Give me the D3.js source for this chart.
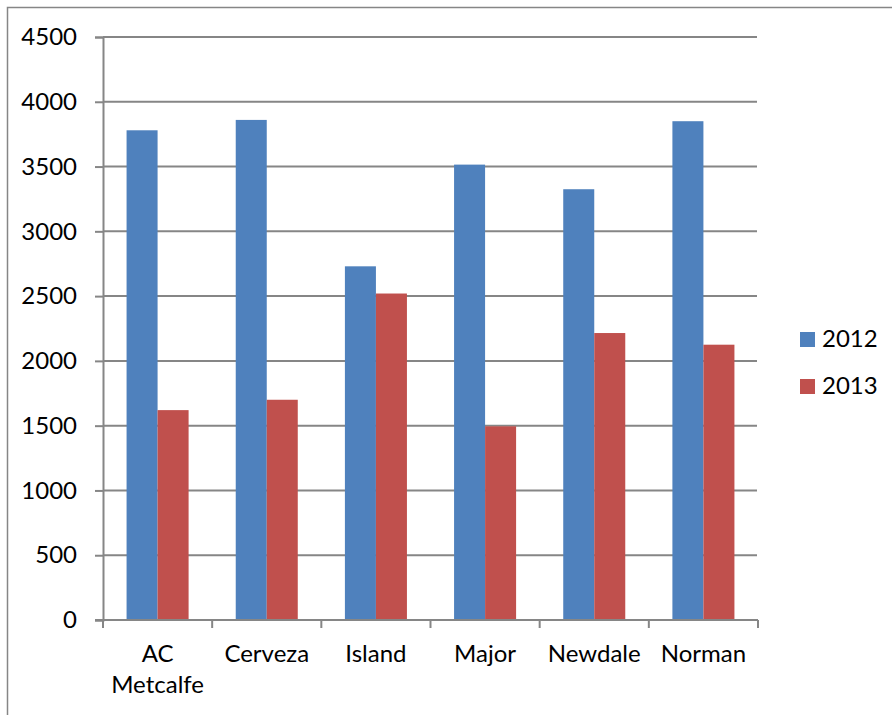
<!DOCTYPE html>
<html>
<head>
<meta charset="utf-8">
<script src="https://cdn.jsdelivr.net/npm/d3@7"></script>
<style>
  html, body { margin: 0; padding: 0; background: #fff; }
  svg { display: block; }
  text { font-family: Lato, "Open Sans", sans-serif; fill: #000; }
</style>
</head>
<body>
<svg id="chart" width="892" height="715"></svg>
<script>
// Sales by outlet, 2012 vs 2013
const categories = [["AC", "Metcalfe"], ["Cerveza"], ["Island"], ["Major"], ["Newdale"], ["Norman"]];
const seriesNames = ["2012", "2013"];
const values2012 = [3780, 3860, 2730, 3515, 3325, 3850];
const values2013 = [1620, 1700, 2520, 1495, 2215, 2125];
const yTicks = [0, 500, 1000, 1500, 2000, 2500, 3000, 3500, 4000, 4500];
const colors = ["#4F81BD", "#C0504D"];

const seriesValues = [values2012, values2013];
const catKeys = categories.map(c => c.join(" "));

const svg = d3.select("#chart");
const axisColor = "#868686";
const fontSize = 24;

// outer frame
svg.append("path")
  .attr("d", "M7.5,715 L7.5,7.5 L892,7.5")
  .attr("fill", "none")
  .attr("stroke", axisColor)
  .attr("stroke-width", 1.5);

const plotLeft = 103, plotRight = 758, plotTop = 37, plotBottom = 620;

const y = d3.scaleLinear().domain([0, 4500]).range([plotBottom, plotTop]);
const x = d3.scaleBand().domain(catKeys).range([plotLeft, plotRight]).paddingInner(0).paddingOuter(0);
const xInner = d3.scaleBand().domain(seriesNames).range([0, x.bandwidth()]).paddingInner(0).paddingOuter(0.76);

// horizontal gridlines
svg.append("g")
  .selectAll("line")
  .data(yTicks.filter(d => d > 0))
  .join("line")
  .attr("x1", plotLeft).attr("x2", plotRight - 1)
  .attr("y1", d => y(d)).attr("y2", d => y(d))
  .attr("stroke", axisColor)
  .attr("stroke-width", 2);

// bars
const groups = svg.append("g")
  .selectAll("g")
  .data(catKeys)
  .join("g")
  .attr("transform", d => `translate(${x(d)},0)`);

groups.selectAll("rect")
  .data((d, i) => seriesNames.map((s, j) => ({ s, v: seriesValues[j][i], j })))
  .join("rect")
  .attr("x", d => xInner(d.s))
  .attr("width", xInner.bandwidth())
  .attr("y", d => y(d.v))
  .attr("height", d => y(0) - y(d.v))
  .attr("fill", d => colors[d.j]);

// y axis
const yAxis = svg.append("g")
  .attr("transform", `translate(${plotLeft},0)`)
  .call(d3.axisLeft(y).tickValues(yTicks).tickFormat(d3.format("d")).tickSize(8).tickPadding(18));
yAxis.select(".domain").attr("stroke", axisColor).attr("stroke-width", 2);
yAxis.selectAll(".tick line").attr("stroke", axisColor).attr("stroke-width", 2);
yAxis.selectAll(".tick text")
  .style("font-family", "Lato, 'Open Sans', sans-serif")
  .attr("font-size", fontSize)
  .attr("fill", "#000");

// x axis line with ticks at category boundaries
const xAxis = svg.append("g");
xAxis.append("line")
  .attr("x1", plotLeft - 8).attr("x2", plotRight)
  .attr("y1", plotBottom).attr("y2", plotBottom)
  .attr("stroke", axisColor).attr("stroke-width", 2);
const boundaries = catKeys.map(k => x(k)).concat([x(catKeys[catKeys.length - 1]) + x.bandwidth()]);
xAxis.selectAll("line.tk")
  .data(boundaries)
  .join("line")
  .attr("class", "tk")
  .attr("x1", d => d).attr("x2", d => d)
  .attr("y1", plotBottom).attr("y2", plotBottom + 8)
  .attr("stroke", axisColor).attr("stroke-width", 2);

// category labels
const labels = xAxis.selectAll("text.cat")
  .data(categories)
  .join("text")
  .attr("class", "cat")
  .attr("text-anchor", "middle")
  .attr("font-size", fontSize)
  .attr("transform", (d, i) => `translate(${x(catKeys[i]) + x.bandwidth() / 2},662)`);
labels.selectAll("tspan")
  .data(d => d)
  .join("tspan")
  .attr("x", 0)
  .attr("dy", (d, i) => i === 0 ? 0 : 31)
  .text(d => d);

// legend
const legend = svg.append("g");
const legendItems = legend.selectAll("g")
  .data(seriesNames)
  .join("g")
  .attr("transform", (d, i) => `translate(800,${332 + i * 47})`);
legendItems.append("rect")
  .attr("width", 15).attr("height", 15)
  .attr("fill", (d, i) => colors[i]);
legendItems.append("text")
  .attr("x", 22).attr("y", 15)
  .attr("font-size", fontSize)
  .text(d => d);
</script>
</body>
</html>
